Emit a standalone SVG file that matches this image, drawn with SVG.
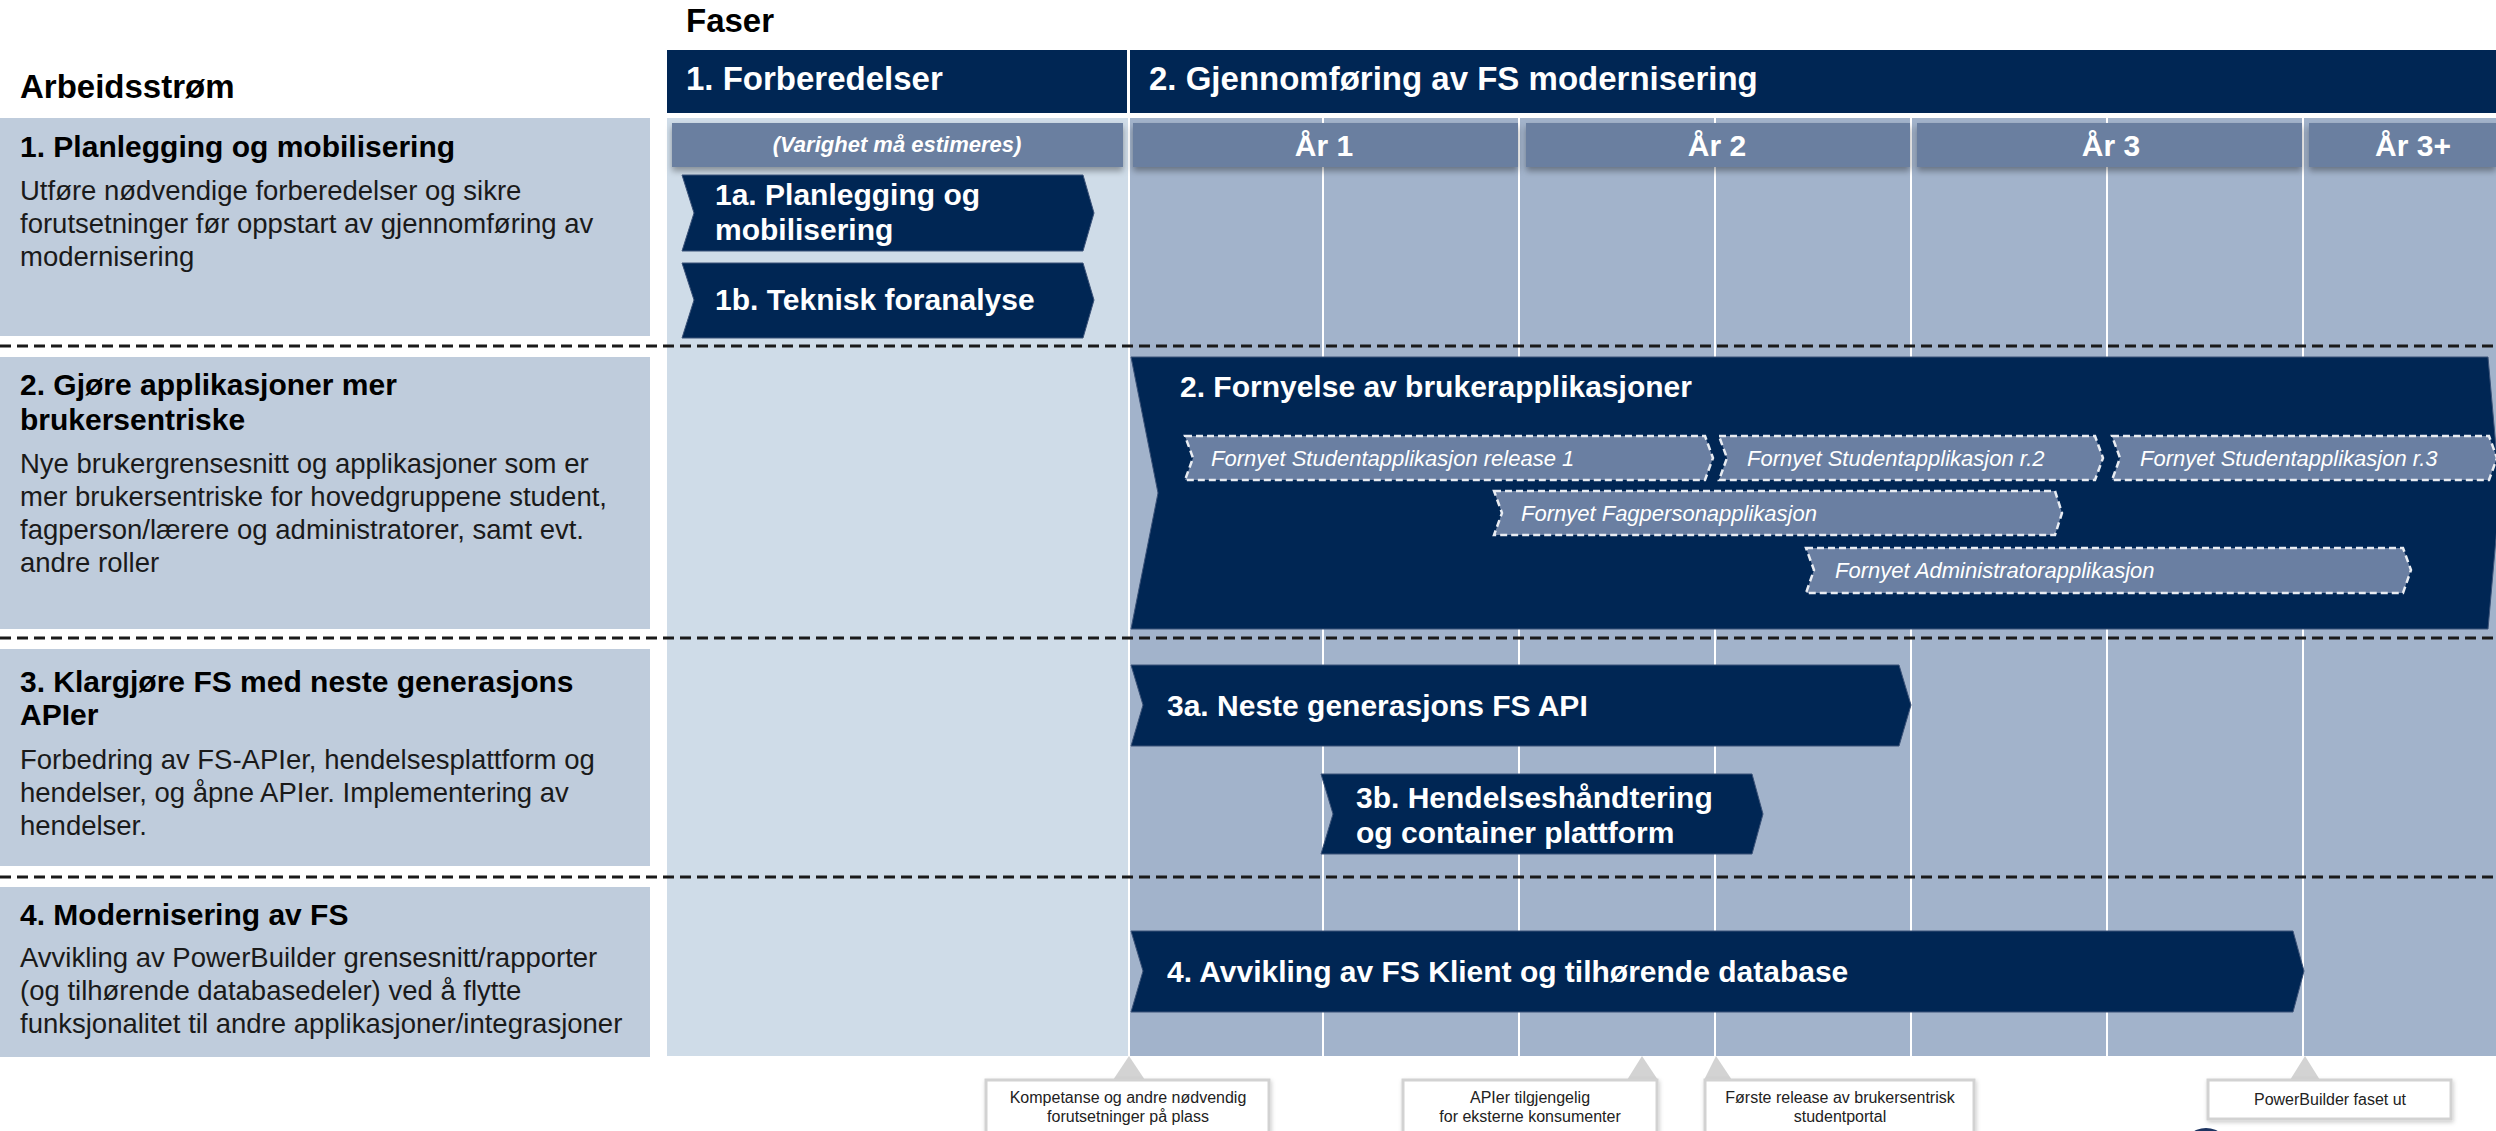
<svg xmlns="http://www.w3.org/2000/svg" width="2496" height="1131" viewBox="0 0 2496 1131">
<defs>
<filter id="sh" x="-5%" y="-20%" width="110%" height="160%">
<feDropShadow dx="0" dy="4" stdDeviation="3" flood-color="#000" flood-opacity="0.35"/>
</filter>
<filter id="sh2" x="-5%" y="-20%" width="110%" height="160%">
<feDropShadow dx="1" dy="2" stdDeviation="2" flood-color="#000" flood-opacity="0.2"/>
</filter>
<style>
text{font-family:"Liberation Sans",Arial,Helvetica,sans-serif;}
.hd{font-size:33px;font-weight:bold;}
.hdw{font-size:33px;font-weight:bold;fill:#fff;}
.ttl{font-size:30px;font-weight:bold;fill:#000;}
.dsc{font-size:27.5px;fill:#1a1a1a;}
.chv{fill:#002654;stroke:#3b5278;stroke-width:1;}
.chvt{font-size:30px;font-weight:bold;fill:#fff;}
.sub{fill:#6a7fa2;stroke:#e8ecf2;stroke-width:2.5;stroke-dasharray:7 4;}
.subt{font-size:22px;font-style:italic;fill:#fff;}
.yr{fill:#6a7fa0;}
.yrt{font-size:30px;font-weight:bold;fill:#fff;text-anchor:middle;}
.row{fill:#bfccdc;}
.sep{stroke:#1a1a1a;stroke-width:3;stroke-dasharray:11 6;}
.vl{stroke:#fff;stroke-width:2;}
.ms{fill:#fff;stroke:#d2d2d2;stroke-width:3;}
.mst{font-size:16px;fill:#222;text-anchor:middle;}
.ptr{fill:#d3d3d3;}
</style>
</defs>
<rect width="2496" height="1131" fill="#fff"/>

<!-- backgrounds -->
<g id="backgrounds">
<rect x="667" y="118" width="461" height="938" fill="#cfdce8"/>
<rect x="1129" y="118" width="1367" height="938" fill="#a2b3cb"/>
<line class="vl" x1="1129" y1="113" x2="1129" y2="1056" stroke-width="3"/>
<line class="vl" x1="1323" y1="113" x2="1323" y2="1056"/>
<line class="vl" x1="1519" y1="113" x2="1519" y2="1056"/>
<line class="vl" x1="1715" y1="113" x2="1715" y2="1056"/>
<line class="vl" x1="1911" y1="113" x2="1911" y2="1056"/>
<line class="vl" x1="2107" y1="113" x2="2107" y2="1056"/>
<line class="vl" x1="2303" y1="113" x2="2303" y2="1056"/>
</g>

<!-- header -->
<g id="header">
<text class="hd" x="686" y="32">Faser</text>
<text class="hd" x="20" y="98">Arbeidsstrøm</text>
</g>
<g id="phase1">
<rect x="667" y="50" width="460" height="63" fill="#002654"/>
<text class="hdw" x="686" y="90">1. Forberedelser</text>
</g>
<g id="phase2">
<rect x="1130" y="50" width="1366" height="63" fill="#002654"/>
<text class="hdw" x="1149" y="90">2. Gjennomføring av FS modernisering</text>
</g>

<g id="varighet">
<rect class="yr" x="672" y="123" width="451" height="44" filter="url(#sh)"/>
<text x="897" y="152" font-size="22" font-weight="bold" font-style="italic" fill="#fff" text-anchor="middle">(Varighet må estimeres)</text>
</g>
<g id="ar1"><rect class="yr" x="1133" y="123" width="385" height="44" filter="url(#sh)"/><text class="yrt" x="1324" y="156">År 1</text></g>
<g id="ar2"><rect class="yr" x="1526" y="123" width="384" height="44" filter="url(#sh)"/><text class="yrt" x="1717" y="156">År 2</text></g>
<g id="ar3"><rect class="yr" x="1917" y="123" width="385" height="44" filter="url(#sh)"/><text class="yrt" x="2111" y="156">År 3</text></g>
<g id="ar3plus"><rect class="yr" x="2309" y="123" width="187" height="44" filter="url(#sh)"/><text class="yrt" x="2413" y="156">År 3+</text></g>

<!-- row descriptions -->
<g id="row1">
<rect class="row" x="0" y="118" width="650" height="218"/>
<text class="ttl" x="20" y="157">1. Planlegging og mobilisering</text>
<text class="dsc" x="20" y="200">Utføre nødvendige forberedelser og sikre</text>
<text class="dsc" x="20" y="233">forutsetninger før oppstart av gjennomføring av</text>
<text class="dsc" x="20" y="266">modernisering</text>
</g>
<g id="row2">
<rect class="row" x="0" y="357" width="650" height="272"/>
<text class="ttl" x="20" y="395">2. Gjøre applikasjoner mer</text>
<text class="ttl" x="20" y="430">brukersentriske</text>
<text class="dsc" x="20" y="473">Nye brukergrensesnitt og applikasjoner som er</text>
<text class="dsc" x="20" y="506">mer brukersentriske for hovedgruppene student,</text>
<text class="dsc" x="20" y="539">fagperson/lærere og administratorer, samt evt.</text>
<text class="dsc" x="20" y="572">andre roller</text>
</g>
<g id="row3">
<rect class="row" x="0" y="649" width="650" height="217"/>
<text class="ttl" x="20" y="692">3. Klargjøre FS med neste generasjons</text>
<text class="ttl" x="20" y="725">APIer</text>
<text class="dsc" x="20" y="769">Forbedring av FS-APIer, hendelsesplattform og</text>
<text class="dsc" x="20" y="802">hendelser, og åpne APIer. Implementering av</text>
<text class="dsc" x="20" y="835">hendelser.</text>
</g>
<g id="row4">
<rect class="row" x="0" y="887" width="650" height="170"/>
<text class="ttl" x="20" y="925">4. Modernisering av FS</text>
<text class="dsc" x="20" y="967">Avvikling av PowerBuilder grensesnitt/rapporter</text>
<text class="dsc" x="20" y="1000">(og tilhørende databasedeler) ved å flytte</text>
<text class="dsc" x="20" y="1033">funksjonalitet til andre applikasjoner/integrasjoner</text>
</g>

<!-- separators -->
<g id="separators">
<line class="sep" x1="0" y1="346" x2="2496" y2="346"/>
<line class="sep" x1="0" y1="638" x2="2496" y2="638"/>
<line class="sep" x1="0" y1="877" x2="2496" y2="877"/>
</g>

<!-- chevrons -->
<g id="n1a">
<polygon class="chv" points="682,175 1083,175 1094,213 1083,251 682,251 694,213"/>
<text class="chvt" x="715" y="205">1a. Planlegging og</text>
<text class="chvt" x="715" y="240">mobilisering</text>
</g>
<g id="n1b">
<polygon class="chv" points="682,263 1083,263 1094,300 1083,338 682,338 694,300"/>
<text class="chvt" x="715" y="310">1b. Teknisk foranalyse</text>
</g>
<g id="n2">
<polygon class="chv" points="1131,357 2488,357 2500,493 2488,629 1131,629 1158,493"/>
<text class="chvt" x="1180" y="397">2. Fornyelse av brukerapplikasjoner</text>
</g>
<g id="n2s1">
<polygon class="sub" points="1185,436 1705,436 1713,458 1705,480 1185,480 1193,458"/>
<text class="subt" x="1211" y="466">Fornyet Studentapplikasjon release 1</text>
</g>
<g id="n2s2">
<polygon class="sub" points="1719,436 2095,436 2103,458 2095,480 1719,480 1727,458"/>
<text class="subt" x="1747" y="466">Fornyet Studentapplikasjon r.2</text>
</g>
<g id="n2s3">
<polygon class="sub" points="2112,436 2489,436 2497,458 2489,480 2112,480 2120,458"/>
<text class="subt" x="2140" y="466">Fornyet Studentapplikasjon r.3</text>
</g>
<g id="n2fag">
<polygon class="sub" points="1494,491 2055,491 2062,513 2055,535 1494,535 1502,513"/>
<text class="subt" x="1521" y="521">Fornyet Fagpersonapplikasjon</text>
</g>
<g id="n2adm">
<polygon class="sub" points="1806,548 2403,548 2411,570 2403,593 1806,593 1814,570"/>
<text class="subt" x="1835" y="578">Fornyet Administratorapplikasjon</text>
</g>
<g id="n3a">
<polygon class="chv" points="1131,665 1899,665 1911,705 1899,746 1131,746 1143,705"/>
<text class="chvt" x="1167" y="716">3a. Neste generasjons FS API</text>
</g>
<g id="n3b">
<polygon class="chv" points="1321,774 1752,774 1763,814 1752,854 1321,854 1333,814"/>
<text class="chvt" x="1356" y="808">3b. Hendelseshåndtering</text>
<text class="chvt" x="1356" y="843">og container plattform</text>
</g>
<g id="n4">
<polygon class="chv" points="1131,931 2293,931 2304,971 2293,1012 1131,1012 1143,971"/>
<text class="chvt" x="1167" y="982">4. Avvikling av FS Klient og tilhørende database</text>
</g>

<!-- connectors (milestone pointers) -->
<g id="connectors">
<polygon class="ptr" points="1129,1056 1145,1080 1113,1080"/>
<polygon class="ptr" points="1642,1056 1658,1080 1627,1080"/>
<polygon class="ptr" points="1716,1056 1732,1080 1704,1080"/>
<polygon class="ptr" points="2305,1056 2320,1080 2290,1080"/>
</g>

<!-- milestones -->
<g id="m1">
<rect class="ms" x="986" y="1080" width="283" height="70" filter="url(#sh2)"/>
<text class="mst" x="1128" y="1103">Kompetanse og andre nødvendig</text>
<text class="mst" x="1128" y="1122">forutsetninger på plass</text>
</g>
<g id="m2">
<rect class="ms" x="1403" y="1080" width="254" height="70" filter="url(#sh2)"/>
<text class="mst" x="1530" y="1103">APIer tilgjengelig</text>
<text class="mst" x="1530" y="1122">for eksterne konsumenter</text>
</g>
<g id="m3">
<rect class="ms" x="1705" y="1080" width="269" height="70" filter="url(#sh2)"/>
<text class="mst" x="1840" y="1103">Første release av brukersentrisk</text>
<text class="mst" x="1840" y="1122">studentportal</text>
</g>
<g id="m4">
<rect class="ms" x="2208" y="1080" width="243" height="39" filter="url(#sh2)"/>
<text class="mst" x="2330" y="1105">PowerBuilder faset ut</text>
</g>
<circle cx="2206" cy="1152" r="24" fill="#1d3461"/>
</svg>
